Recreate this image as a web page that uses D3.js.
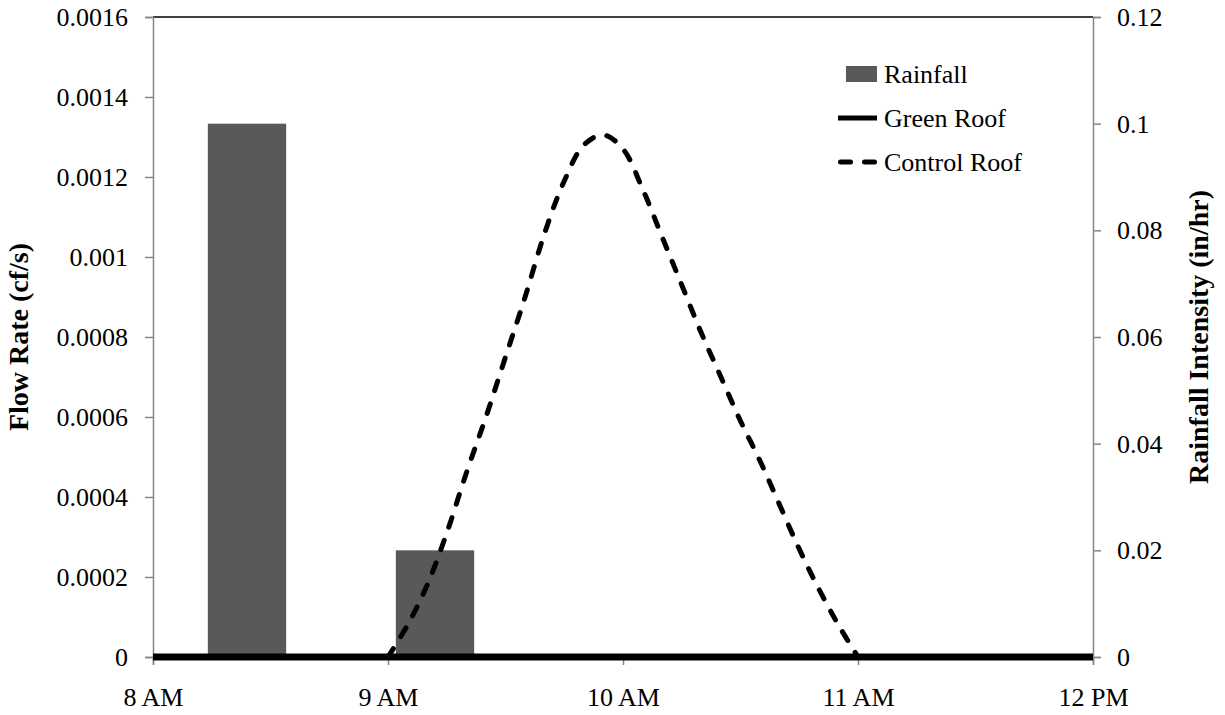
<!DOCTYPE html>
<html>
<head>
<meta charset="utf-8">
<script src="https://cdn.jsdelivr.net/npm/d3@7"></script>
<style>
    body { margin: 0; background: #fff; }
    svg text { font-family: "Liberation Serif", "Times New Roman", serif; fill: #000; }
</style>
</head>
<body>
<div id="chart"></div>
<script>
//rainfall bars (centre time, in/hr on right axis)
var rainTimes = ["8:24", "9:12"];
var rainValues = [0.1, 0.02];

//green roof runoff (cf/s)
var greenTimes = ["8:00", "9:00", "10:00", "11:00", "12:00"];
var greenValues = [0, 0, 0, 0, 0];

//control roof runoff (cf/s)
var controlTimes = ["9:00", "9:05", "9:10", "9:15", "9:20", "9:25", "9:30", "9:35", "9:40", "9:45",
    "9:50", "9:55", "10:00", "10:05", "10:10", "10:15", "10:20", "10:25", "10:30", "10:35",
    "10:40", "10:45", "10:50", "10:55", "11:00"];
var controlValues = [0, 0.00008, 0.00018, 0.00031, 0.00046, 0.0006, 0.00075, 0.0009, 0.00106, 0.00119,
    0.00128, 0.001305, 0.00127, 0.00117, 0.00105, 0.00093, 0.00081, 0.0007, 0.00059, 0.00049,
    0.00038, 0.00027, 0.00017, 0.00008, 0];

//axis ticks
var hourTicks = ["8:00", "9:00", "10:00", "11:00", "12:00"];
var flowTicks = [0, 0.0002, 0.0004, 0.0006, 0.0008, 0.001, 0.0012, 0.0014, 0.0016];
var rainTicks = [0, 0.02, 0.04, 0.06, 0.08, 0.1, 0.12];

var legendNames = ["Rainfall", "Green Roof", "Control Roof"];

function toDate(s) {
    var p = s.split(":");
    return new Date(2012, 0, 1, +p[0], +p[1]);
}

var totalWidth = 1225, totalHeight = 715;
var margin = {top: 17, right: 132, bottom: 58, left: 153};
var width = totalWidth - margin.left - margin.right;
var height = totalHeight - margin.top - margin.bottom;
var axisGrey = "#868686";
var dash = "10,14";

var svg = d3.select("#chart").append("svg")
    .attr("width", totalWidth)
    .attr("height", totalHeight);
var g = svg.append("g").attr("transform", "translate(" + margin.left + "," + margin.top + ")");

var x = d3.scaleTime().domain([toDate("8:00"), toDate("12:00")]).range([0, width]);
var yFlow = d3.scaleLinear().domain([0, 0.0016]).range([height, 0]);
var yRain = d3.scaleLinear().domain([0, 0.12]).range([height, 0]);

//top border
g.append("line")
    .attr("x1", 0).attr("x2", width)
    .attr("y1", 0).attr("y2", 0)
    .attr("stroke", "#000").attr("stroke-width", 1.5);

//left axis
var leftAxis = g.append("g")
    .call(d3.axisLeft(yFlow).tickValues(flowTicks).tickSize(8).tickPadding(17).tickFormat(d3.format("~g")));
//right axis
var rightAxis = g.append("g")
    .attr("transform", "translate(" + width + ",0)")
    .call(d3.axisRight(yRain).tickValues(rainTicks).tickSize(8).tickPadding(16).tickFormat(d3.format("~g")));
//bottom axis
var bottomAxis = g.append("g")
    .attr("transform", "translate(0," + height + ")")
    .call(d3.axisBottom(x).tickValues(hourTicks.map(toDate)).tickSize(8).tickFormat(d3.timeFormat("%-I %p")));

[leftAxis, rightAxis, bottomAxis].forEach(function (ax) {
    ax.attr("font-family", null).attr("font-size", null);
    ax.select(".domain").attr("stroke", axisGrey).attr("stroke-width", 1.5);
    ax.selectAll(".tick line").attr("stroke", axisGrey).attr("stroke-width", 1.5);
    ax.selectAll(".tick text").style("font-size", "26px");
});
leftAxis.selectAll(".tick text").attr("dy", "0.33em");
rightAxis.selectAll(".tick text").attr("dy", "0.33em");
bottomAxis.selectAll(".tick text").attr("y", 49).attr("dy", 0);

//rainfall bars, 20 minutes wide
var barMinutes = 20;
g.selectAll(".bar")
    .data(rainTimes.map(function (t, i) { return {t: toDate(t), v: rainValues[i]}; }))
    .enter().append("rect")
    .attr("class", "bar")
    .attr("x", function (d) { return x(d3.timeMinute.offset(d.t, -barMinutes / 2)); })
    .attr("width", function (d) { return x(d3.timeMinute.offset(d.t, barMinutes / 2)) - x(d3.timeMinute.offset(d.t, -barMinutes / 2)); })
    .attr("y", function (d) { return yRain(d.v); })
    .attr("height", function (d) { return height - yRain(d.v); })
    .attr("fill", "#595959");

var flowLine = d3.line()
    .x(function (d) { return x(d.t); })
    .y(function (d) { return yFlow(d.v); })
    .curve(d3.curveCatmullRom);

//control roof
g.append("path")
    .datum(controlTimes.map(function (t, i) { return {t: toDate(t), v: controlValues[i]}; }))
    .attr("d", flowLine)
    .attr("fill", "none")
    .attr("stroke", "#000")
    .attr("stroke-width", 5)
    .attr("stroke-linecap", "round")
    .attr("stroke-dasharray", dash);

//green roof
g.append("path")
    .datum(greenTimes.map(function (t, i) { return {t: toDate(t), v: greenValues[i]}; }))
    .attr("d", flowLine)
    .attr("fill", "none")
    .attr("stroke", "#000")
    .attr("stroke-width", 7);

//legend
var legend = svg.append("g").attr("transform", "translate(838,74)");
legendNames.forEach(function (name, i) {
    var row = legend.append("g").attr("transform", "translate(0," + (i * 44) + ")");
    if (i === 0) {
        row.append("rect").attr("x", 8).attr("y", -8).attr("width", 31).attr("height", 16).attr("fill", "#595959");
    } else {
        row.append("line")
            .attr("x1", i === 2 ? 2.5 : 0).attr("x2", 39).attr("y1", 0).attr("y2", 0)
            .attr("stroke", "#000")
            .attr("stroke-width", 5)
            .attr("stroke-linecap", i === 2 ? "round" : "butt")
            .attr("stroke-dasharray", i === 2 ? dash : null);
    }
    row.append("text")
        .attr("x", 46)
        .attr("dy", "0.33em")
        .style("font-size", "26px")
        .text(name);
});

//axis titles
svg.append("text")
    .attr("transform", "translate(28," + (margin.top + height / 2) + ") rotate(-90)")
    .attr("text-anchor", "middle")
    .style("font-size", "28px")
    .style("font-weight", "bold")
    .text("Flow Rate (cf/s)");
svg.append("text")
    .attr("transform", "translate(1208," + (margin.top + height / 2) + ") rotate(-90)")
    .attr("text-anchor", "middle")
    .style("font-size", "28px")
    .style("font-weight", "bold")
    .text("Rainfall Intensity (in/hr)");
</script>
</body>
</html>
